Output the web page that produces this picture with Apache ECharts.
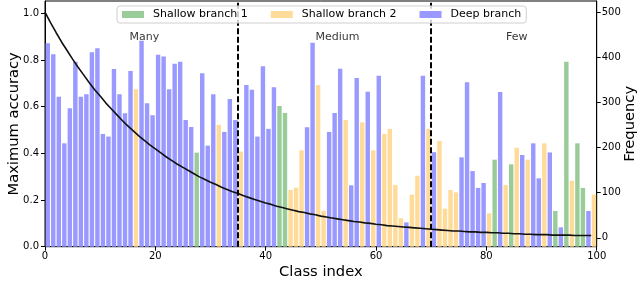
<!DOCTYPE html>
<html>
<head>
<meta charset="utf-8">
<script src="https://cdn.jsdelivr.net/npm/echarts@6/dist/echarts.min.js"></script>
<style>
html,body{margin:0;padding:0;background:#fff;}
#chart{width:640px;height:307px;}
</style>
</head>
<body>
<div id="chart"></div>
<script>
// ---- data ----
var classIndex = [];
for (var k = 0; k < 100; k++) classIndex.push(k);

var accuracy = [
  0.872,0.825,0.643,0.443,0.593,0.793,0.643,0.653,0.833,0.850,
  0.483,0.472,0.762,0.653,0.572,0.753,0.675,0.883,0.615,0.563,
  0.823,0.815,0.675,0.784,0.793,0.543,0.513,0.403,0.743,0.433,
  0.653,0.522,0.492,0.633,0.543,0.408,0.693,0.673,0.472,0.773,
  0.505,0.683,0.603,0.573,0.243,0.253,0.413,0.512,0.874,0.693,
  0.154,0.492,0.573,0.763,0.543,0.263,0.723,0.533,0.664,0.413,
  0.733,0.483,0.505,0.264,0.122,0.104,0.223,0.304,0.733,0.505,
  0.405,0.453,0.163,0.243,0.233,0.383,0.705,0.324,0.252,0.273,
  0.143,0.373,0.663,0.264,0.353,0.424,0.393,0.373,0.443,0.293,
  0.443,0.404,0.153,0.083,0.793,0.283,0.443,0.252,0.153,0.223
];

// 1 = Shallow branch 1, 2 = Shallow branch 2, 3 = Deep branch
var branch = [
  3,3,3,3,3,3,3,3,3,3,
  3,3,3,3,3,3,2,3,3,3,
  3,3,3,3,3,3,3,1,3,3,
  3,2,3,3,3,2,3,3,3,3,
  3,3,1,1,2,2,2,3,3,2,
  2,3,3,3,2,3,3,2,3,2,
  3,2,2,2,2,3,2,2,3,2,
  3,2,2,2,2,3,3,3,3,3,
  2,1,3,2,1,2,3,2,3,3,
  2,3,1,3,1,2,1,1,3,2
];

var frequency = [
  500,477,455,434,415,396,378,361,344,328,
  314,299,286,273,260,248,237,226,216,206,
  197,188,179,171,163,156,149,142,135,129,
  123,118,112,107,102,98,93,89,85,81,
  77,74,70,67,64,61,58,56,53,51,
  48,46,44,42,40,38,36,35,33,32,
  30,29,27,26,25,24,23,22,21,20,
  19,18,17,16,15,15,14,13,13,12,
  12,11,11,10,10,9,9,8,8,7,
  7,7,6,6,6,6,5,5,5,5
];

var branchNames = ['Shallow branch 1', 'Shallow branch 2', 'Deep branch'];
var branchColors = ['#99cc99', '#ffdb99', '#9999ff'];

var boundaries = [35, 70];
var regionNames = ['Many', 'Medium', 'Few'];
var regionX = [18, 53, 85.5];
var regionY = [0.9, 0.9, 0.9];

var accTicks = [0, 0.2, 0.4, 0.6, 0.8, 1.0];
var freqTicks = [0, 100, 200, 300, 400, 500];

// ---- build ----
var FONT = 'DejaVu Sans';
var barSeries = branchNames.map(function (name, b) {
  return {
    name: name,
    type: 'bar',
    xAxisIndex: 0,
    yAxisIndex: 0,
    barWidth: '80%',
    barGap: '-100%',
    itemStyle: { color: branchColors[b] },
    data: accuracy.map(function (v, i) { return branch[i] === b + 1 ? v : '-'; }),
    z: 2
  };
});

var lineSeries = {
  name: 'Frequency',
  type: 'line',
  xAxisIndex: 1,
  yAxisIndex: 1,
  showSymbol: false,
  symbol: 'none',
  color: '#111',
  lineStyle: { color: '#111', width: 1.6 },
  data: classIndex.map(function (c, i) { return [c, frequency[i]]; }),
  z: 4,
  markLine: {
    silent: true,
    symbol: ['none', 'none'],
    label: { show: false },
    lineStyle: { color: '#000', type: [6, 2.5], width: 2 },
    data: boundaries.map(function (b) { return { xAxis: b }; }),
    z: 5
  }
};

var labelSeries = {
  name: 'regions',
  type: 'scatter',
  xAxisIndex: 1,
  yAxisIndex: 0,
  symbolSize: 0,
  silent: true,
  color: '#000',
  label: {
    show: true,
    position: 'inside',
    formatter: '{b}',
    fontFamily: FONT,
    fontSize: 11,
    color: '#000'
  },
  data: regionNames.map(function (n, i) { return { name: n, value: [regionX[i], regionY[i]] }; }),
  z: 6
};

var chart = echarts.init(document.getElementById('chart'), null, { renderer: 'canvas' });
chart.setOption({
  animation: false,
  backgroundColor: '#fff',
  textStyle: { fontFamily: FONT },
  grid: {
    left: 45, right: 43.3, top: 1, bottom: 60.3,
    outerBoundsMode: 'none',
    containLabel: false,
    show: true, borderColor: '#000', borderWidth: 1, backgroundColor: 'transparent'
  },
  legend: {
    data: branchNames,
    left: 117,
    top: 6,
    padding: [3, 5, 3, 5],
    itemWidth: 22,
    itemHeight: 7,
    itemGap: 23,
    icon: 'rect',
    backgroundColor: 'rgba(255,255,255,0.8)',
    borderColor: '#cfcfcf',
    borderWidth: 1,
    borderRadius: 3,
    textStyle: { fontFamily: FONT, fontSize: 11, color: '#000', padding: [0, 0, 0, 4] },
    z: 20
  },
  xAxis: [
    {
      type: 'category',
      data: classIndex,
      show: false,
      boundaryGap: true,
      axisLine: { show: false, onZero: false },
      axisTick: { show: false },
      axisLabel: { show: false }
    },
    {
      type: 'value',
      min: 0, max: 100, interval: 20,
      position: 'bottom',
      name: 'Class index',
      nameLocation: 'middle',
      nameGap: 18,
      nameMoveOverlap: false,
      nameTextStyle: { fontFamily: FONT, fontSize: 14.7, color: '#000' },
      axisLine: { show: true, onZero: false, lineStyle: { color: '#000', width: 1 } },
      axisTick: { show: true, length: 4, lineStyle: { color: '#000' } },
      axisLabel: { fontFamily: FONT, fontSize: 10, color: '#000', margin: 5 },
      splitLine: { show: false }
    }
  ],
  yAxis: [
    {
      type: 'value',
      min: 0, max: 1.053,
      position: 'left',
      name: 'Maximum accuracy',
      nameLocation: 'middle',
      nameGap: 23,
      nameMoveOverlap: false,
      nameTextStyle: { fontFamily: FONT, fontSize: 14.7, color: '#000' },
      axisLine: { show: true, onZero: false, lineStyle: { color: '#000', width: 1 } },
      axisTick: { show: true, length: 4, lineStyle: { color: '#000' }, customValues: accTicks },
      axisLabel: {
        fontFamily: FONT, fontSize: 10, color: '#000', margin: 6,
        customValues: accTicks,
        formatter: function (v) { return v.toFixed(1); }
      },
      splitLine: { show: false }
    },
    {
      type: 'value',
      min: -19.75, max: 524.75,
      position: 'right',
      name: 'Frequency',
      nameLocation: 'middle',
      nameGap: 26,
      nameMoveOverlap: false,
      nameTextStyle: { fontFamily: FONT, fontSize: 14.7, color: '#000' },
      axisLine: { show: true, onZero: false, lineStyle: { color: '#000', width: 1 } },
      axisTick: { show: true, length: 4, lineStyle: { color: '#000' }, customValues: freqTicks },
      axisLabel: {
        fontFamily: FONT, fontSize: 10, color: '#000', margin: 5,
        customValues: freqTicks
      },
      splitLine: { show: false }
    }
  ],
  series: barSeries.concat([lineSeries, labelSeries])
});
</script>
</body>
</html>
